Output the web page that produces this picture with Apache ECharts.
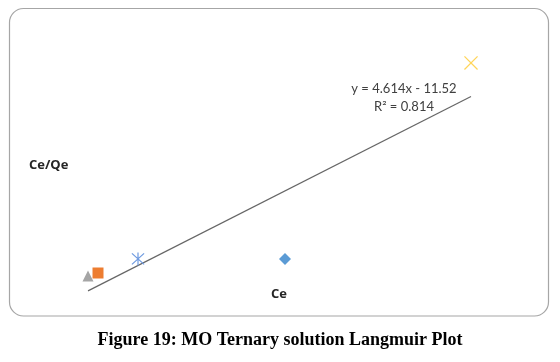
<!DOCTYPE html>
<html>
<head>
<meta charset="utf-8">
<script src="https://cdn.jsdelivr.net/npm/echarts@6/dist/echarts.min.js"></script>
<style>
html,body{margin:0;padding:0;background:#fff;}
#chart{width:560px;height:362px;}
</style>
</head>
<body>
<div id="chart"></div>
<script>
// Data (Ce, Ce/Qe)
var seriesNames = ['Triangle', 'Square', 'Asterisk', 'Diamond', 'Cross'];
var ceValues = [2.9, 3.4, 5.4, 12.75, 22.05];
var ceQeValues = [8.6, 10.0, 16.4, 16.4, 105.5];
var trendSlope = 4.614;
var trendIntercept = -11.52;
var equationLabels = ['y = 4.614x - 11.52', 'R\u00b2 = 0.814'];
var xAxisTitle = 'Ce';
var yAxisTitle = 'Ce/Qe';
var captionText = 'Figure 19: MO Ternary solution Langmuir Plot';

var asteriskPath = 'path://M5.5 0 L6.5 0 L6.5 12 L5.5 12 Z M0.6 1.3 L1.3 0.6 L11.4 10.7 L10.7 11.4 Z M10.7 0.6 L11.4 1.3 L1.3 11.4 L0.6 10.7 Z';
var crossPath = 'path://M0.6 1.3 L1.3 0.6 L11.4 10.7 L10.7 11.4 Z M10.7 0.6 L11.4 1.3 L1.3 11.4 L0.6 10.7 Z';
var styles = [
  {symbol: 'triangle', size: 11, color: '#a5a5a5'},
  {symbol: 'rect', size: 11, color: '#ed7d31'},
  {symbol: asteriskPath, size: 13, color: '#6f9be0'},
  {symbol: 'diamond', size: 12, color: '#5b9bd5'},
  {symbol: crossPath, size: 14, color: '#ffd55a'}
];

var xMinData = Math.min.apply(null, ceValues);
var xMaxData = Math.max.apply(null, ceValues);
var trendData = [
  [xMinData, trendSlope * xMinData + trendIntercept],
  [xMaxData, trendSlope * xMaxData + trendIntercept]
];

var series = [{
  type: 'line',
  data: trendData,
  symbol: 'none',
  silent: true,
  lineStyle: {color: '#666', width: 1.2},
  z: 1
}];
for (var i = 0; i < ceValues.length; i++) {
  series.push({
    name: seriesNames[i],
    type: 'scatter',
    data: [[ceValues[i], ceQeValues[i]]],
    symbol: styles[i].symbol,
    symbolSize: styles[i].size,
    itemStyle: {color: styles[i].color, opacity: 1},
    z: 3
  });
}

var chart = echarts.init(document.getElementById('chart'), null, {renderer: 'canvas'});
chart.setOption({
  animation: false,
  backgroundColor: '#fff',
  grid: {left: 30, right: 30, top: 31, bottom: 67},
  xAxis: {type: 'value', min: 0, max: 25, show: false},
  yAxis: {type: 'value', min: 0, max: 120, show: false},
  series: series,
  graphic: [
    {type: 'rect', shape: {x: 9.5, y: 8.5, width: 539, height: 307.5, r: 14},
     style: {fill: 'none', stroke: '#a6a6a6', lineWidth: 1.2}, z: 0, silent: true},
    {type: 'text', left: 349, top: 80, style: {text: equationLabels[0] + '\n' + equationLabels[1], font: '13px Lato', fill: '#404040', textAlign: 'center', lineHeight: 18, width: 110}, z: 5},
    {type: 'text', left: 29, top: 159, style: {text: yAxisTitle, font: 'bold 13px "Open Sans"', fill: '#262626'}, z: 5},
    {type: 'text', left: 271, top: 288, style: {text: xAxisTitle, font: 'bold 13px "Open Sans"', fill: '#262626'}, z: 5},
    {type: 'text', left: 'center', top: 331, style: {text: captionText, font: 'bold 18px "Liberation Serif"', fill: '#000'}, z: 5}
  ]
});
</script>
</body>
</html>
